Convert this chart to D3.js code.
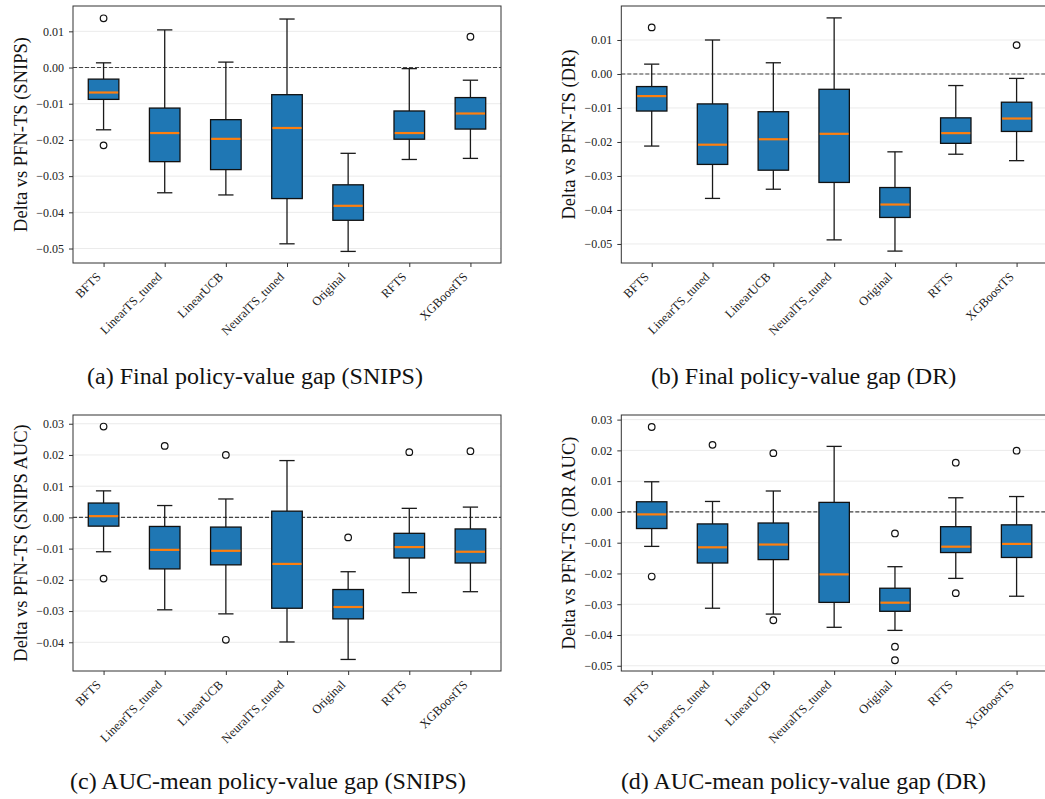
<!DOCTYPE html>
<html><head><meta charset="utf-8">
<script src="https://cdn.jsdelivr.net/npm/d3@7"></script>
<style>body{margin:0;background:#fff} svg{display:block}</style>
</head><body>
<svg id="chart" width="1045" height="799"></svg>
<script>
const categories = ["BFTS", "LinearTS_tuned", "LinearUCB", "NeuralTS_tuned", "Original", "RFTS", "XGBoostTS"];

// each row: [lower whisker, Q1, median, Q3, upper whisker]
const finalSnipsStats = [
  [-0.0172, -0.0088, -0.0069, -0.0032, 0.0013],
  [-0.0346, -0.0260, -0.0181, -0.0112, 0.0104],
  [-0.0352, -0.0282, -0.0197, -0.0144, 0.0015],
  [-0.0487, -0.0362, -0.0167, -0.0075, 0.0134],
  [-0.0508, -0.0422, -0.0382, -0.0324, -0.0237],
  [-0.0254, -0.0198, -0.0181, -0.0120, -0.0003],
  [-0.0251, -0.0170, -0.0127, -0.0083, -0.0035]
];
const finalSnipsOutliers = [[0.0136, -0.0215], [], [], [], [], [], [0.0085]];

const finalDrStats = [
  [-0.0212, -0.0109, -0.0065, -0.0037, 0.0029],
  [-0.0366, -0.0266, -0.0208, -0.0088, 0.0100],
  [-0.0339, -0.0283, -0.0192, -0.0111, 0.0033],
  [-0.0488, -0.0319, -0.0176, -0.0045, 0.0165],
  [-0.0521, -0.0422, -0.0384, -0.0334, -0.0229],
  [-0.0236, -0.0204, -0.0174, -0.0129, -0.0034],
  [-0.0255, -0.0169, -0.0131, -0.0083, -0.0013]
];
const finalDrOutliers = [[0.0137], [], [], [], [], [], [0.0085]];

const aucSnipsStats = [
  [-0.0110, -0.0028, 0.0004, 0.0046, 0.0085],
  [-0.0296, -0.0165, -0.0104, -0.0029, 0.0038],
  [-0.0309, -0.0152, -0.0107, -0.0031, 0.0059],
  [-0.0399, -0.0291, -0.0149, 0.0020, 0.0182],
  [-0.0455, -0.0325, -0.0287, -0.0231, -0.0174],
  [-0.0241, -0.0130, -0.0095, -0.0051, 0.0029],
  [-0.0238, -0.0146, -0.0110, -0.0037, 0.0033]
];
const aucSnipsOutliers = [[0.0291, -0.0196], [0.0229], [0.0200, -0.0392], [], [-0.0064], [0.0209], [0.0212]];

const aucDrStats = [
  [-0.0112, -0.0054, -0.0008, 0.0033, 0.0098],
  [-0.0313, -0.0166, -0.0115, -0.0039, 0.0034],
  [-0.0332, -0.0155, -0.0106, -0.0036, 0.0068],
  [-0.0375, -0.0294, -0.0203, 0.0031, 0.0213],
  [-0.0385, -0.0323, -0.0295, -0.0248, -0.0178],
  [-0.0216, -0.0132, -0.0113, -0.0048, 0.0046],
  [-0.0274, -0.0148, -0.0104, -0.0042, 0.0050]
];
const aucDrOutliers = [[0.0276, -0.0210], [0.0218], [0.0191, -0.0352], [], [-0.0070, -0.0438, -0.0482], [0.0160, -0.0264], [0.0199]];

const ticksFinalSnips = [0.01, 0.00, -0.01, -0.02, -0.03, -0.04, -0.05];
const ticksFinalDr = [0.01, 0.00, -0.01, -0.02, -0.03, -0.04, -0.05];
const ticksAucSnips = [0.03, 0.02, 0.01, 0.00, -0.01, -0.02, -0.03, -0.04];
const ticksAucDr = [0.03, 0.02, 0.01, 0.00, -0.01, -0.02, -0.03, -0.04, -0.05];

const yLabels = ["Delta vs PFN-TS (SNIPS)", "Delta vs PFN-TS (DR)", "Delta vs PFN-TS (SNIPS AUC)", "Delta vs PFN-TS (DR AUC)"];
const captions = ["(a) Final policy-value gap (SNIPS)", "(b) Final policy-value gap (DR)",
                  "(c) AUC-mean policy-value gap (SNIPS)", "(d) AUC-mean policy-value gap (DR)"];

const FONT = "'Liberation Serif', 'Times New Roman', serif";

const panels = [
  {stats: finalSnipsStats, out: finalSnipsOutliers, ticks: ticksFinalSnips, domain: [-0.0540, 0.0170],
   l: 73, r: 501, t: 6, b: 263, labX: 27, capX: 255, capY: 384},
  {stats: finalDrStats, out: finalDrOutliers, ticks: ticksFinalDr, domain: [-0.0556, 0.0200],
   l: 621.3, r: 1047, t: 6, b: 263, labX: 575, capX: 803.5, capY: 384},
  {stats: aucSnipsStats, out: aucSnipsOutliers, ticks: ticksAucSnips, domain: [-0.0492, 0.0328],
   l: 73, r: 501, t: 415, b: 671, labX: 27, capX: 268, capY: 789},
  {stats: aucDrStats, out: aucDrOutliers, ticks: ticksAucDr, domain: [-0.0517, 0.0315],
   l: 621.3, r: 1047, t: 415, b: 671, labX: 575, capX: 803.5, capY: 789}
];

const svg = d3.select("#chart");
const fmt = d3.format(".2f");

panels.forEach((p, pi) => {
  const g = svg.append("g");
  const x = d3.scalePoint().domain(categories).range([p.l, p.r]).padding(0.5);
  const y = d3.scaleLinear().domain(p.domain).range([p.b, p.t]);
  const step = x.step();
  const bw = step * 0.5, cw = step * 0.25;

  // grid
  g.append("g").selectAll("line").data(p.ticks).join("line")
    .attr("x1", p.l).attr("x2", p.r)
    .attr("y1", d => y(d)).attr("y2", d => y(d))
    .attr("stroke", "#ebebeb").attr("stroke-width", 1);

  // zero line
  g.append("line").attr("x1", p.l).attr("x2", p.r)
    .attr("y1", y(0)).attr("y2", y(0))
    .attr("stroke", "#444").attr("stroke-width", 1.1)
    .attr("stroke-dasharray", "4,2");

  const rows = categories.map((c, i) => ({c, s: p.stats[i], o: p.out[i]}));
  const bx = g.append("g").selectAll("g").data(rows).join("g");

  // whiskers
  bx.append("line").attr("x1", d => x(d.c)).attr("x2", d => x(d.c))
    .attr("y1", d => y(d.s[0])).attr("y2", d => y(d.s[1]))
    .attr("stroke", "#1a1a1a").attr("stroke-width", 1.3);
  bx.append("line").attr("x1", d => x(d.c)).attr("x2", d => x(d.c))
    .attr("y1", d => y(d.s[3])).attr("y2", d => y(d.s[4]))
    .attr("stroke", "#1a1a1a").attr("stroke-width", 1.3);
  // caps
  [0, 4].forEach(k => {
    bx.append("line").attr("x1", d => x(d.c) - cw / 2).attr("x2", d => x(d.c) + cw / 2)
      .attr("y1", d => y(d.s[k])).attr("y2", d => y(d.s[k]))
      .attr("stroke", "#1a1a1a").attr("stroke-width", 1.3);
  });
  // box
  bx.append("rect").attr("x", d => x(d.c) - bw / 2).attr("width", bw)
    .attr("y", d => y(d.s[3])).attr("height", d => y(d.s[1]) - y(d.s[3]))
    .attr("fill", "#1f77b4").attr("stroke", "#111").attr("stroke-width", 1.3);
  // median
  bx.append("line").attr("x1", d => x(d.c) - bw / 2 + 0.7).attr("x2", d => x(d.c) + bw / 2 - 0.7)
    .attr("y1", d => y(d.s[2])).attr("y2", d => y(d.s[2]))
    .attr("stroke", "#ff7f0e").attr("stroke-width", 2.2);
  // outliers
  bx.selectAll("circle").data(d => d.o.map(v => ({c: d.c, v}))).join("circle")
    .attr("cx", d => x(d.c)).attr("cy", d => y(d.v)).attr("r", 3.3)
    .attr("fill", "none").attr("stroke", "#111").attr("stroke-width", 1.2);

  // frame
  g.append("rect").attr("x", p.l).attr("y", p.t).attr("width", p.r - p.l).attr("height", p.b - p.t)
    .attr("fill", "none").attr("stroke", "#333").attr("stroke-width", 1);

  // y axis
  const ya = g.append("g").attr("transform", `translate(${p.l},0)`)
    .call(d3.axisLeft(y).tickValues(p.ticks).tickFormat(fmt).tickSize(4).tickPadding(5));
  ya.select(".domain").remove();
  ya.selectAll("line").attr("stroke", "#333");
  ya.selectAll("text").attr("font-family", FONT).attr("font-size", 12).attr("fill", "#222");

  // x axis
  const xa = g.append("g").attr("transform", `translate(0,${p.b})`)
    .call(d3.axisBottom(x).tickSize(4).tickFormat(""));
  xa.select(".domain").remove();
  xa.selectAll("line").attr("stroke", "#333");
  g.append("g").selectAll("text").data(categories).join("text")
    .attr("transform", d => `translate(${x(d) - 2},${p.b + 14.5}) rotate(-45)`)
    .attr("text-anchor", "end")
    .attr("font-family", FONT).attr("font-size", 12.5).attr("fill", "#222")
    .text(d => d);

  // y label
  g.append("text")
    .attr("transform", `translate(${p.labX},${(p.t + p.b) / 2}) rotate(-90)`)
    .attr("text-anchor", "middle")
    .attr("font-family", FONT).attr("font-size", 18.5).attr("fill", "#111")
    .text(yLabels[pi]);

  // caption
  g.append("text").attr("x", p.capX).attr("y", p.capY)
    .attr("text-anchor", "middle")
    .attr("font-family", FONT).attr("font-size", 24).attr("fill", "#111")
    .text(captions[pi]);
});
</script>
</body></html>
